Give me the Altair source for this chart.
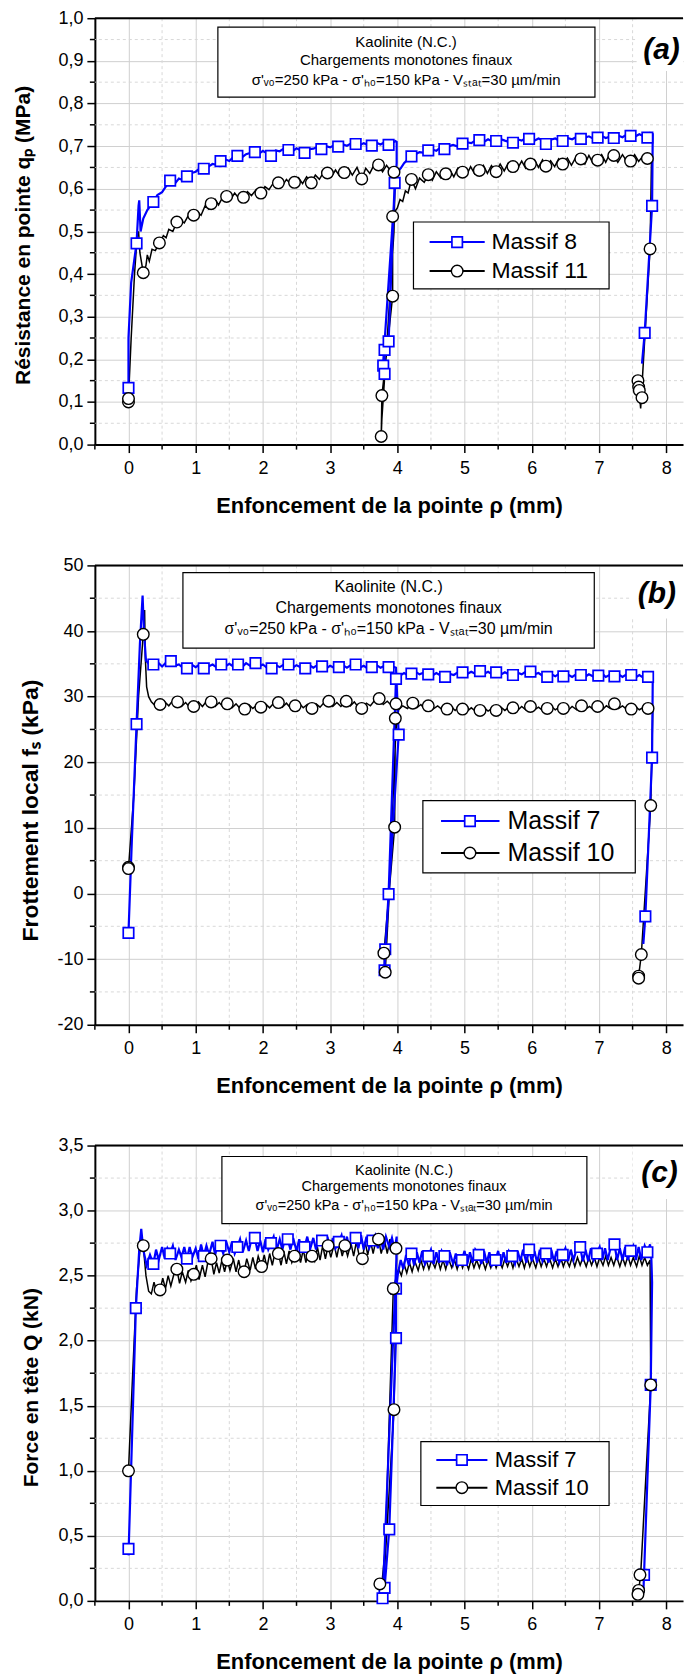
import altair as alt
import pandas as pd

FONT = "Liberation Sans"
BLUE = "#0000ff"
BLACK = "#000000"
GRID_MAJOR = "#d0d0d0"
GRID_MINOR = "#d8d8d8"

# ---------------- shared axis data ----------------
X_DOMAIN = [-0.5, 8.25]
X_MAJOR = [0, 1, 2, 3, 4, 5, 6, 7, 8]
X_MINOR = [-0.5, 0.5, 1.5, 2.5, 3.5, 4.5, 5.5, 6.5, 7.5]
X_TITLE = "Enfoncement de la pointe ρ (mm)"
ANNOT_LINES = ["Kaolinite (N.C.)", "Chargements monotones finaux",
               "σ'ᵥ₀=250 kPa - σ'ₕ₀=150 kPa - Vₛₜₐₜ=30 µm/min"]

# ---------------- panel (a) ----------------
A_Y_DOMAIN = [0.0, 1.0]
A_Y_MAJOR = [0.0, 0.1, 0.2, 0.3, 0.4, 0.5, 0.6, 0.7, 0.8, 0.9, 1.0]
A_Y_MINOR = [0.05, 0.15, 0.25, 0.35, 0.45, 0.55, 0.65, 0.75, 0.85, 0.95]
A_NAMES = ["Massif 8", "Massif 11"]

a_massif8_line = [
    (0.00, 0.133), (0.00, 0.25), (0.04, 0.38), (0.12, 0.472), (0.15, 0.56), (0.16, 0.573), (0.18, 0.50),
    (0.22, 0.53), (0.28, 0.55), (0.37, 0.569), (0.43, 0.585), (0.50, 0.592), (0.56, 0.606), (0.62, 0.619),
    (0.69, 0.612), (0.75, 0.624), (0.81, 0.620), (0.87, 0.629), (0.94, 0.637), (1.00, 0.640), (1.06, 0.648),
    (1.12, 0.647), (1.19, 0.652), (1.25, 0.658), (1.31, 0.656), (1.37, 0.665), (1.44, 0.669), (1.50, 0.665),
    (1.56, 0.674), (1.62, 0.677), (1.69, 0.674), (1.75, 0.681), (1.81, 0.684), (1.88, 0.686), (1.94, 0.682),
    (2.00, 0.689), (2.06, 0.683), (2.12, 0.677), (2.19, 0.690), (2.25, 0.688), (2.31, 0.694), (2.38, 0.691),
    (2.44, 0.688), (2.50, 0.695), (2.56, 0.690), (2.62, 0.684), (2.69, 0.693), (2.75, 0.694), (2.81, 0.698),
    (2.87, 0.693), (2.94, 0.700), (3.00, 0.697), (3.06, 0.702), (3.12, 0.699), (3.19, 0.704), (3.25, 0.701),
    (3.31, 0.706), (3.38, 0.705), (3.44, 0.702), (3.50, 0.707), (3.56, 0.703), (3.62, 0.701), (3.69, 0.708),
    (3.75, 0.704), (3.81, 0.709), (3.87, 0.703), (3.93, 0.708), (3.97, 0.712), (3.99, 0.710), (3.99, 0.660),
    (3.78, 0.170), (3.79, 0.185), (3.81, 0.166), (3.81, 0.222), (3.87, 0.242), (3.96, 0.614), (4.00, 0.640),
    (4.05, 0.648), (4.10, 0.660), (4.15, 0.668), (4.21, 0.676), (4.27, 0.681), (4.33, 0.686), (4.40, 0.684),
    (4.46, 0.690), (4.52, 0.692), (4.58, 0.689), (4.64, 0.697), (4.70, 0.693), (4.77, 0.700), (4.83, 0.703),
    (4.90, 0.699), (4.97, 0.706), (5.03, 0.709), (5.10, 0.707), (5.16, 0.713), (5.22, 0.714), (5.28, 0.709),
    (5.35, 0.716), (5.41, 0.711), (5.47, 0.712), (5.53, 0.717), (5.60, 0.713), (5.66, 0.710), (5.72, 0.708),
    (5.78, 0.716), (5.85, 0.713), (5.91, 0.719), (5.96, 0.717), (6.03, 0.712), (6.10, 0.718), (6.16, 0.714),
    (6.21, 0.705), (6.28, 0.715), (6.35, 0.718), (6.41, 0.713), (6.46, 0.712), (6.53, 0.719), (6.60, 0.716),
    (6.66, 0.721), (6.73, 0.717), (6.79, 0.720), (6.85, 0.723), (6.91, 0.718), (6.98, 0.720), (7.04, 0.724),
    (7.10, 0.719), (7.16, 0.722), (7.22, 0.719), (7.28, 0.725), (7.35, 0.721), (7.41, 0.727), (7.47, 0.724),
    (7.53, 0.722), (7.60, 0.728), (7.66, 0.724), (7.72, 0.720), (7.76, 0.730), (7.79, 0.725), (7.80, 0.730),
    (7.79, 0.560), (7.68, 0.262), (7.64, 0.190)]
a_massif8_marks = [
    (0.00, 0.133), (0.12, 0.472), (0.37, 0.569), (0.62, 0.619), (0.87, 0.629), (1.12, 0.647), (1.37, 0.665),
    (1.62, 0.677), (1.88, 0.686), (2.12, 0.677), (2.38, 0.691), (2.62, 0.684), (2.87, 0.693), (3.12, 0.699),
    (3.38, 0.705), (3.62, 0.701), (3.87, 0.703), (3.79, 0.185), (3.81, 0.166), (3.81, 0.222), (3.87, 0.242),
    (3.96, 0.614), (4.21, 0.676), (4.46, 0.690), (4.70, 0.693), (4.97, 0.706), (5.22, 0.714), (5.47, 0.712),
    (5.72, 0.708), (5.96, 0.717), (6.21, 0.705), (6.46, 0.712), (6.73, 0.717), (6.98, 0.720), (7.22, 0.719),
    (7.47, 0.724), (7.72, 0.720), (7.79, 0.560), (7.68, 0.262)]
a_massif11_line = [
    (0.00, 0.100), (0.00, 0.108), (0.04, 0.25), (0.09, 0.40), (0.13, 0.49), (0.15, 0.50), (0.17, 0.45),
    (0.22, 0.403), (0.26, 0.42), (0.28, 0.445), (0.31, 0.43), (0.35, 0.458), (0.40, 0.455), (0.46, 0.473),
    (0.52, 0.49), (0.56, 0.485), (0.60, 0.505), (0.66, 0.50), (0.72, 0.522), (0.78, 0.525), (0.83, 0.52),
    (0.90, 0.54), (0.97, 0.538), (1.03, 0.545), (1.08, 0.538), (1.14, 0.56), (1.19, 0.553), (1.23, 0.565),
    (1.29, 0.575), (1.34, 0.562), (1.40, 0.58), (1.46, 0.582), (1.52, 0.575), (1.58, 0.59), (1.64, 0.578),
    (1.71, 0.580), (1.77, 0.593), (1.83, 0.584), (1.90, 0.598), (1.97, 0.590), (2.03, 0.605), (2.09, 0.598),
    (2.15, 0.612), (2.23, 0.614), (2.29, 0.607), (2.35, 0.622), (2.41, 0.612), (2.47, 0.615), (2.53, 0.626),
    (2.59, 0.612), (2.65, 0.628), (2.72, 0.614), (2.78, 0.632), (2.84, 0.622), (2.90, 0.638), (2.96, 0.637),
    (3.02, 0.628), (3.08, 0.644), (3.14, 0.630), (3.21, 0.638), (3.27, 0.648), (3.33, 0.632), (3.40, 0.650),
    (3.47, 0.623), (3.53, 0.648), (3.59, 0.636), (3.65, 0.655), (3.72, 0.656), (3.78, 0.640), (3.84, 0.655),
    (3.90, 0.642), (3.95, 0.639), (3.97, 0.650), (3.95, 0.50), (3.85, 0.25), (3.77, 0.06), (3.76, 0.019),
    (3.77, 0.115), (3.83, 0.20), (3.93, 0.348), (3.93, 0.535), (3.96, 0.545), (4.00, 0.555), (4.04, 0.575),
    (4.08, 0.570), (4.12, 0.595), (4.16, 0.590), (4.21, 0.622), (4.27, 0.600), (4.33, 0.625), (4.40, 0.615),
    (4.46, 0.633), (4.52, 0.620), (4.58, 0.640), (4.65, 0.625), (4.72, 0.635), (4.78, 0.645), (4.84, 0.628),
    (4.90, 0.648), (4.97, 0.639), (5.03, 0.632), (5.09, 0.652), (5.15, 0.635), (5.22, 0.643), (5.28, 0.655),
    (5.34, 0.636), (5.40, 0.654), (5.47, 0.640), (5.53, 0.658), (5.59, 0.642), (5.65, 0.660), (5.72, 0.652),
    (5.78, 0.645), (5.85, 0.665), (5.91, 0.648), (5.98, 0.658), (6.04, 0.668), (6.10, 0.650), (6.16, 0.668),
    (6.21, 0.653), (6.28, 0.666), (6.34, 0.652), (6.40, 0.670), (6.46, 0.658), (6.53, 0.672), (6.59, 0.655),
    (6.66, 0.675), (6.73, 0.670), (6.79, 0.658), (6.85, 0.678), (6.91, 0.660), (6.98, 0.667), (7.04, 0.680),
    (7.10, 0.662), (7.16, 0.682), (7.22, 0.678), (7.28, 0.662), (7.35, 0.680), (7.41, 0.665), (7.47, 0.665),
    (7.53, 0.680), (7.59, 0.664), (7.66, 0.678), (7.72, 0.671), (7.77, 0.668), (7.78, 0.660), (7.76, 0.459),
    (7.70, 0.30), (7.62, 0.085), (7.60, 0.12), (7.58, 0.150), (7.59, 0.135), (7.60, 0.127), (7.64, 0.110)]
a_massif11_marks = [
    (0.00, 0.100), (0.00, 0.108), (0.22, 0.403), (0.46, 0.473), (0.72, 0.522), (0.97, 0.538), (1.23, 0.565),
    (1.46, 0.582), (1.71, 0.580), (1.97, 0.590), (2.23, 0.614), (2.47, 0.615), (2.72, 0.614), (2.96, 0.637),
    (3.21, 0.638), (3.47, 0.623), (3.72, 0.656), (3.95, 0.639), (3.93, 0.535), (3.93, 0.348), (3.77, 0.115),
    (3.76, 0.019), (4.21, 0.622), (4.46, 0.633), (4.72, 0.635), (4.97, 0.639), (5.22, 0.643), (5.47, 0.640),
    (5.72, 0.652), (5.98, 0.658), (6.21, 0.653), (6.46, 0.658), (6.73, 0.670), (6.98, 0.667), (7.22, 0.678),
    (7.47, 0.665), (7.72, 0.671), (7.76, 0.459), (7.58, 0.150), (7.59, 0.135), (7.60, 0.127), (7.64, 0.110)]

# ---------------- panel (b) ----------------
B_Y_DOMAIN = [-20, 50]
B_Y_MAJOR = [-20, -10, 0, 10, 20, 30, 40, 50]
B_Y_MINOR = [-15, -5, 5, 15, 25, 35, 45]
BC_NAMES = ["Massif 7", "Massif 10"]

b_massif7_line = [
    (0.00, -6.0), (0.05, 8.0), (0.12, 25.8), (0.17, 38.0), (0.21, 45.4), (0.23, 40.0), (0.26, 35.5),
    (0.30, 35.0), (0.37, 34.9), (0.43, 35.3), (0.50, 34.6), (0.56, 35.2), (0.63, 35.4), (0.69, 34.7),
    (0.75, 34.9), (0.81, 34.4), (0.87, 34.3), (0.94, 34.9), (1.00, 34.5), (1.06, 34.9), (1.12, 34.3),
    (1.19, 34.6), (1.25, 34.9), (1.31, 34.5), (1.38, 34.9), (1.44, 34.6), (1.50, 35.0), (1.56, 34.6),
    (1.63, 34.9), (1.69, 34.5), (1.75, 35.1), (1.81, 34.7), (1.89, 35.1), (1.94, 34.6), (2.00, 34.9),
    (2.06, 34.4), (2.13, 34.3), (2.19, 34.8), (2.25, 34.5), (2.31, 34.9), (2.38, 34.9), (2.44, 34.4),
    (2.50, 34.8), (2.56, 34.5), (2.63, 34.3), (2.69, 34.8), (2.75, 34.4), (2.81, 34.8), (2.88, 34.6),
    (2.94, 34.3), (3.00, 34.7), (3.06, 34.4), (3.13, 34.5), (3.19, 34.8), (3.25, 34.4), (3.31, 34.8),
    (3.38, 34.9), (3.44, 34.4), (3.50, 34.7), (3.56, 34.3), (3.62, 34.5), (3.69, 34.8), (3.75, 34.4),
    (3.81, 34.7), (3.87, 34.5), (3.93, 34.6), (3.98, 34.4), (4.02, 24.2), (3.80, -12.0), (3.81, -11.7),
    (3.82, -8.5), (3.87, -0.1), (3.98, 32.7), (4.04, 33.2), (4.10, 33.6), (4.15, 33.3), (4.21, 33.5),
    (4.27, 33.8), (4.33, 33.4), (4.40, 33.7), (4.46, 33.4), (4.52, 33.2), (4.58, 33.6), (4.65, 33.2),
    (4.71, 33.0), (4.77, 33.5), (4.84, 33.3), (4.90, 33.7), (4.97, 33.7), (5.03, 33.4), (5.10, 33.8),
    (5.16, 33.5), (5.23, 33.9), (5.29, 33.5), (5.35, 33.8), (5.41, 33.4), (5.47, 33.7), (5.53, 33.3),
    (5.60, 33.7), (5.66, 33.4), (5.72, 33.3), (5.78, 33.7), (5.85, 33.4), (5.91, 33.8), (5.98, 33.8),
    (6.04, 33.4), (6.10, 33.6), (6.16, 33.2), (6.23, 33.0), (6.29, 33.4), (6.35, 33.1), (6.41, 33.5),
    (6.47, 33.1), (6.53, 33.4), (6.60, 33.0), (6.66, 33.4), (6.73, 33.3), (6.79, 33.0), (6.85, 33.4),
    (6.91, 33.1), (6.99, 33.2), (7.05, 33.5), (7.10, 33.0), (7.16, 33.3), (7.23, 33.1), (7.29, 33.4),
    (7.35, 33.0), (7.41, 33.4), (7.48, 33.3), (7.54, 32.9), (7.60, 33.3), (7.66, 32.9), (7.73, 33.0),
    (7.78, 33.2), (7.80, 32.8), (7.79, 20.7), (7.69, -3.5), (7.66, -7.7)]
b_massif7_marks = [
    (0.00, -6.0), (0.12, 25.8), (0.37, 34.9), (0.63, 35.4), (0.87, 34.3), (1.12, 34.3), (1.38, 34.9),
    (1.63, 34.9), (1.89, 35.1), (2.13, 34.3), (2.38, 34.9), (2.63, 34.3), (2.88, 34.6), (3.13, 34.5),
    (3.38, 34.9), (3.62, 34.5), (3.87, 34.5), (3.98, 32.7), (4.02, 24.2), (3.87, -0.1), (3.82, -8.5),
    (3.81, -11.7), (4.21, 33.5), (4.46, 33.4), (4.71, 33.0), (4.97, 33.7), (5.23, 33.9), (5.47, 33.7),
    (5.72, 33.3), (5.98, 33.8), (6.23, 33.0), (6.47, 33.1), (6.73, 33.3), (6.99, 33.2), (7.23, 33.1),
    (7.48, 33.3), (7.73, 33.0), (7.79, 20.7), (7.69, -3.5)]
b_massif10_line = [
    (0.00, 4.0), (0.00, 3.8), (0.08, 15.0), (0.15, 30.0), (0.22, 39.5), (0.24, 43.2), (0.25, 36.0),
    (0.27, 31.5), (0.30, 30.0), (0.34, 29.2), (0.40, 28.6), (0.47, 28.8), (0.53, 29.3), (0.60, 28.6),
    (0.66, 29.4), (0.73, 29.2), (0.79, 28.5), (0.85, 29.1), (0.91, 28.4), (0.97, 28.5), (1.04, 29.2),
    (1.10, 28.5), (1.16, 29.3), (1.23, 29.2), (1.29, 28.5), (1.35, 29.1), (1.41, 28.4), (1.47, 28.9),
    (1.54, 28.3), (1.60, 28.9), (1.66, 28.2), (1.73, 28.1), (1.79, 28.8), (1.85, 28.2), (1.91, 28.7),
    (1.97, 28.4), (2.04, 28.9), (2.10, 28.3), (2.16, 29.0), (2.23, 29.1), (2.29, 28.4), (2.35, 29.0),
    (2.41, 28.3), (2.48, 28.6), (2.54, 29.0), (2.60, 28.3), (2.66, 28.8), (2.73, 28.2), (2.79, 28.9),
    (2.85, 28.4), (2.91, 29.1), (2.98, 29.3), (3.04, 28.5), (3.10, 29.1), (3.16, 28.5), (3.24, 29.3),
    (3.30, 28.6), (3.36, 29.2), (3.41, 28.5), (3.47, 28.2), (3.54, 29.0), (3.60, 28.6), (3.66, 29.4),
    (3.73, 29.7), (3.79, 28.8), (3.85, 29.3), (3.91, 28.7), (3.98, 28.9), (3.97, 26.7), (3.96, 10.1),
    (3.80, -9.1), (3.82, -12.0), (3.88, 0.0), (3.95, 18.0), (3.98, 25.0), (4.02, 28.0), (4.08, 28.6),
    (4.15, 28.2), (4.23, 29.0), (4.29, 28.3), (4.35, 28.8), (4.40, 28.2), (4.46, 28.6), (4.53, 28.1),
    (4.60, 28.6), (4.67, 28.0), (4.74, 28.1), (4.80, 28.5), (4.86, 27.9), (4.91, 28.4), (4.97, 28.1),
    (5.04, 27.8), (5.10, 28.3), (5.16, 27.8), (5.23, 27.9), (5.29, 28.3), (5.35, 27.8), (5.41, 28.2),
    (5.47, 27.9), (5.54, 28.4), (5.60, 27.9), (5.66, 28.4), (5.72, 28.3), (5.79, 27.9), (5.85, 28.5),
    (5.91, 28.0), (5.98, 28.5), (6.04, 28.0), (6.10, 28.4), (6.16, 27.9), (6.23, 28.2), (6.29, 28.5),
    (6.35, 28.0), (6.41, 28.4), (6.47, 28.2), (6.54, 27.9), (6.60, 28.5), (6.67, 28.0), (6.74, 28.6),
    (6.80, 28.1), (6.86, 28.5), (6.92, 28.0), (6.98, 28.5), (7.05, 28.0), (7.11, 28.6), (7.17, 28.2),
    (7.23, 28.9), (7.29, 28.2), (7.35, 28.6), (7.42, 28.0), (7.48, 28.1), (7.54, 28.5), (7.60, 28.0),
    (7.67, 28.4), (7.73, 28.2), (7.78, 28.0), (7.80, 27.8), (7.77, 13.4), (7.63, -9.3), (7.59, -12.6),
    (7.59, -12.9)]
b_massif10_marks = [
    (0.00, 4.0), (0.00, 3.8), (0.22, 39.5), (0.47, 28.8), (0.73, 29.2), (0.97, 28.5), (1.23, 29.2),
    (1.47, 28.9), (1.73, 28.1), (1.97, 28.4), (2.23, 29.1), (2.48, 28.6), (2.73, 28.2), (2.98, 29.3),
    (3.24, 29.3), (3.47, 28.2), (3.73, 29.7), (3.98, 28.9), (3.97, 26.7), (3.96, 10.1), (3.80, -9.1),
    (3.82, -12.0), (4.23, 29.0), (4.46, 28.6), (4.74, 28.1), (4.97, 28.1), (5.23, 27.9), (5.47, 27.9),
    (5.72, 28.3), (5.98, 28.5), (6.23, 28.2), (6.47, 28.2), (6.74, 28.6), (6.98, 28.5), (7.23, 28.9),
    (7.48, 28.1), (7.73, 28.2), (7.77, 13.4), (7.63, -9.3), (7.59, -12.6), (7.59, -12.9)]

# ---------------- panel (c) ----------------
C_Y_DOMAIN = [0.0, 3.5]
C_Y_MAJOR = [0.0, 0.5, 1.0, 1.5, 2.0, 2.5, 3.0, 3.5]
C_Y_MINOR = [0.25, 0.75, 1.25, 1.75, 2.25, 2.75, 3.25]

c_massif7_line = [
    (0.00, 0.40), (0.00, 0.35), (0.05, 1.20), (0.11, 2.25), (0.16, 2.70), (0.19, 2.86), (0.22, 2.70),
    (0.27, 2.58), (0.32, 2.66), (0.37, 2.59), (0.41, 2.70), (0.45, 2.62), (0.50, 2.72), (0.54, 2.63),
    (0.58, 2.71), (0.62, 2.67), (0.66, 2.73), (0.70, 2.62), (0.75, 2.70), (0.79, 2.64), (0.83, 2.72),
    (0.87, 2.63), (0.91, 2.72), (0.95, 2.64), (1.00, 2.71), (1.04, 2.63), (1.08, 2.74), (1.12, 2.65),
    (1.16, 2.73), (1.20, 2.66), (1.25, 2.76), (1.29, 2.66), (1.33, 2.75), (1.37, 2.73), (1.41, 2.67),
    (1.45, 2.77), (1.50, 2.68), (1.54, 2.76), (1.58, 2.67), (1.62, 2.72), (1.66, 2.78), (1.70, 2.68),
    (1.75, 2.77), (1.79, 2.69), (1.83, 2.78), (1.88, 2.79), (1.92, 2.69), (1.96, 2.77), (2.00, 2.68),
    (2.04, 2.78), (2.08, 2.70), (2.12, 2.75), (2.16, 2.80), (2.20, 2.69), (2.25, 2.78), (2.29, 2.70),
    (2.33, 2.79), (2.37, 2.78), (2.41, 2.70), (2.45, 2.79), (2.50, 2.69), (2.54, 2.78), (2.58, 2.70),
    (2.62, 2.72), (2.66, 2.80), (2.70, 2.70), (2.75, 2.79), (2.79, 2.70), (2.83, 2.79), (2.88, 2.77),
    (2.92, 2.70), (2.96, 2.80), (3.00, 2.70), (3.04, 2.79), (3.08, 2.71), (3.13, 2.76), (3.17, 2.81),
    (3.21, 2.71), (3.25, 2.80), (3.29, 2.70), (3.33, 2.79), (3.38, 2.79), (3.42, 2.71), (3.46, 2.81),
    (3.50, 2.70), (3.54, 2.80), (3.58, 2.71), (3.63, 2.77), (3.67, 2.81), (3.71, 2.71), (3.75, 2.79),
    (3.79, 2.70), (3.83, 2.80), (3.88, 2.72), (3.92, 2.79), (3.96, 2.70), (3.99, 2.80), (3.99, 2.68),
    (3.78, 0.00), (3.81, 0.10), (3.88, 0.55), (3.98, 2.02), (3.98, 2.40), (4.01, 2.52), (4.05, 2.62),
    (4.09, 2.55), (4.13, 2.66), (4.17, 2.58), (4.21, 2.67), (4.25, 2.58), (4.29, 2.68), (4.33, 2.60),
    (4.37, 2.69), (4.41, 2.59), (4.46, 2.65), (4.50, 2.70), (4.54, 2.59), (4.58, 2.68), (4.62, 2.60),
    (4.66, 2.69), (4.70, 2.65), (4.74, 2.58), (4.78, 2.68), (4.83, 2.59), (4.87, 2.67), (4.91, 2.58),
    (4.96, 2.62), (5.00, 2.69), (5.04, 2.59), (5.08, 2.68), (5.12, 2.60), (5.16, 2.70), (5.21, 2.66),
    (5.25, 2.59), (5.29, 2.69), (5.33, 2.60), (5.37, 2.68), (5.41, 2.58), (5.46, 2.62), (5.50, 2.69),
    (5.54, 2.59), (5.58, 2.68), (5.62, 2.60), (5.66, 2.69), (5.71, 2.65), (5.75, 2.59), (5.79, 2.69),
    (5.83, 2.61), (5.87, 2.70), (5.92, 2.60), (5.96, 2.70), (6.00, 2.61), (6.04, 2.69), (6.08, 2.60),
    (6.12, 2.70), (6.16, 2.61), (6.21, 2.67), (6.25, 2.60), (6.29, 2.70), (6.33, 2.61), (6.37, 2.69),
    (6.41, 2.60), (6.46, 2.66), (6.50, 2.71), (6.54, 2.61), (6.58, 2.70), (6.62, 2.62), (6.67, 2.71),
    (6.72, 2.72), (6.76, 2.61), (6.80, 2.70), (6.84, 2.61), (6.88, 2.71), (6.92, 2.62), (6.97, 2.67),
    (7.01, 2.72), (7.05, 2.62), (7.09, 2.71), (7.13, 2.62), (7.18, 2.73), (7.23, 2.74), (7.27, 2.62),
    (7.31, 2.71), (7.35, 2.62), (7.39, 2.72), (7.43, 2.62), (7.47, 2.69), (7.51, 2.73), (7.55, 2.62),
    (7.59, 2.72), (7.63, 2.62), (7.68, 2.73), (7.72, 2.68), (7.76, 2.74), (7.78, 2.62), (7.79, 2.45),
    (7.77, 1.66), (7.67, 0.20), (7.66, 0.06)]
c_massif7_marks = [
    (0.00, 0.40), (0.11, 2.25), (0.37, 2.59), (0.62, 2.67), (0.87, 2.63), (1.12, 2.65), (1.37, 2.73),
    (1.62, 2.72), (1.88, 2.79), (2.12, 2.75), (2.37, 2.78), (2.62, 2.72), (2.88, 2.77), (3.13, 2.76),
    (3.38, 2.79), (3.63, 2.77), (3.98, 2.40), (3.98, 2.02), (3.88, 0.55), (3.81, 0.10), (3.78, 0.02),
    (4.21, 2.67), (4.46, 2.65), (4.70, 2.65), (4.96, 2.62), (5.21, 2.66), (5.46, 2.62), (5.71, 2.65),
    (5.96, 2.70), (6.21, 2.67), (6.46, 2.66), (6.72, 2.72), (6.97, 2.67), (7.23, 2.74), (7.47, 2.69),
    (7.72, 2.68), (7.77, 1.66), (7.67, 0.20)]
c_massif10_line = [
    (0.00, 1.00), (0.05, 1.60), (0.12, 2.40), (0.18, 2.75), (0.20, 2.80), (0.22, 2.73), (0.26, 2.50),
    (0.30, 2.38), (0.34, 2.36), (0.38, 2.45), (0.42, 2.37), (0.47, 2.39), (0.51, 2.48), (0.55, 2.40),
    (0.59, 2.50), (0.63, 2.42), (0.68, 2.52), (0.72, 2.55), (0.76, 2.44), (0.80, 2.53), (0.85, 2.45),
    (0.89, 2.54), (0.93, 2.46), (0.97, 2.51), (1.01, 2.58), (1.05, 2.47), (1.10, 2.58), (1.14, 2.49),
    (1.18, 2.60), (1.23, 2.63), (1.27, 2.51), (1.31, 2.60), (1.35, 2.52), (1.39, 2.62), (1.43, 2.53),
    (1.47, 2.62), (1.51, 2.54), (1.56, 2.63), (1.60, 2.53), (1.64, 2.62), (1.68, 2.52), (1.72, 2.53),
    (1.76, 2.63), (1.81, 2.54), (1.85, 2.64), (1.89, 2.55), (1.93, 2.65), (1.98, 2.57), (2.02, 2.66),
    (2.06, 2.56), (2.10, 2.67), (2.14, 2.58), (2.18, 2.68), (2.23, 2.67), (2.27, 2.58), (2.31, 2.69),
    (2.35, 2.59), (2.39, 2.69), (2.43, 2.60), (2.47, 2.65), (2.51, 2.70), (2.56, 2.60), (2.60, 2.70),
    (2.64, 2.60), (2.68, 2.71), (2.73, 2.65), (2.77, 2.61), (2.81, 2.72), (2.85, 2.62), (2.89, 2.73),
    (2.93, 2.63), (2.97, 2.73), (3.01, 2.64), (3.06, 2.74), (3.10, 2.64), (3.14, 2.75), (3.18, 2.65),
    (3.22, 2.73), (3.26, 2.65), (3.31, 2.75), (3.35, 2.65), (3.39, 2.76), (3.43, 2.66), (3.48, 2.63),
    (3.52, 2.76), (3.56, 2.66), (3.60, 2.77), (3.64, 2.67), (3.68, 2.77), (3.72, 2.78), (3.76, 2.67),
    (3.81, 2.77), (3.85, 2.67), (3.89, 2.78), (3.93, 2.68), (3.98, 2.71), (3.99, 2.62), (3.95, 1.47),
    (3.80, 0.15), (3.74, 0.13), (3.76, 0.08), (3.82, 0.40), (3.94, 2.40), (3.98, 2.48), (4.02, 2.55),
    (4.06, 2.50), (4.10, 2.59), (4.14, 2.52), (4.18, 2.60), (4.22, 2.53), (4.26, 2.61), (4.31, 2.54),
    (4.35, 2.62), (4.39, 2.55), (4.43, 2.62), (4.47, 2.55), (4.51, 2.62), (4.56, 2.56), (4.60, 2.63),
    (4.64, 2.55), (4.68, 2.62), (4.72, 2.55), (4.76, 2.63), (4.81, 2.56), (4.85, 2.62), (4.89, 2.55),
    (4.93, 2.63), (4.97, 2.56), (5.01, 2.62), (5.06, 2.55), (5.10, 2.63), (5.14, 2.56), (5.18, 2.62),
    (5.22, 2.56), (5.26, 2.63), (5.31, 2.55), (5.35, 2.62), (5.39, 2.56), (5.43, 2.63), (5.47, 2.56),
    (5.51, 2.62), (5.56, 2.56), (5.60, 2.63), (5.64, 2.57), (5.68, 2.63), (5.72, 2.56), (5.76, 2.64),
    (5.81, 2.57), (5.85, 2.63), (5.89, 2.56), (5.93, 2.64), (5.97, 2.57), (6.01, 2.63), (6.06, 2.56),
    (6.10, 2.64), (6.14, 2.57), (6.18, 2.63), (6.22, 2.57), (6.26, 2.64), (6.31, 2.56), (6.35, 2.63),
    (6.39, 2.57), (6.43, 2.64), (6.47, 2.57), (6.51, 2.63), (6.56, 2.57), (6.60, 2.64), (6.64, 2.57),
    (6.68, 2.64), (6.72, 2.58), (6.76, 2.64), (6.81, 2.57), (6.85, 2.64), (6.89, 2.58), (6.93, 2.64),
    (6.97, 2.57), (7.01, 2.64), (7.06, 2.58), (7.10, 2.65), (7.14, 2.58), (7.18, 2.64), (7.22, 2.58),
    (7.26, 2.65), (7.31, 2.57), (7.35, 2.64), (7.39, 2.58), (7.43, 2.65), (7.47, 2.58), (7.51, 2.64),
    (7.56, 2.57), (7.60, 2.65), (7.64, 2.58), (7.68, 2.64), (7.72, 2.58), (7.76, 2.62), (7.77, 1.66),
    (7.62, 0.20), (7.59, 0.08), (7.58, 0.05)]
c_massif10_marks = [
    (0.00, 1.00), (0.22, 2.73), (0.47, 2.39), (0.72, 2.55), (0.97, 2.51), (1.23, 2.63), (1.47, 2.62),
    (1.72, 2.53), (1.98, 2.57), (2.23, 2.67), (2.47, 2.65), (2.73, 2.65), (2.97, 2.73), (3.22, 2.73),
    (3.48, 2.63), (3.72, 2.78), (3.98, 2.71), (3.95, 1.47), (3.94, 2.40), (3.74, 0.13), (7.77, 1.66),
    (7.61, 0.20), (7.59, 0.08), (7.58, 0.05)]

COMMA_1F = "replace(format(datum.value, '.1f'), '.', ',')"
PLAIN = "toString(datum.value)"


def to_df(pairs):
    return pd.DataFrame({"x": [a for a, b in pairs], "y": [b for a, b in pairs],
                         "i": list(range(len(pairs)))})


def panel(p):
    xs = alt.Scale(domain=X_DOMAIN, nice=False, zero=False)
    ys = alt.Scale(domain=p["ydom"], nice=False, zero=False)
    y0, y1 = p["ydom"]

    x_axis = alt.Axis(values=X_MAJOR, format="d", grid=True, gridColor=GRID_MAJOR, gridWidth=1,
                      domainColor="black", domainWidth=2, tickColor="black", tickWidth=1.5,
                      tickSize=8, labelFont=FONT, labelFontSize=18, labelColor="black",
                      labelPadding=7, labelOverlap=False, title=X_TITLE, titleFont=FONT,
                      titleFontSize=22, titleFontWeight="bold", titleColor="black",
                      titleY=61, titleBaseline="middle")
    y_axis = alt.Axis(values=p["ymajor"], labelExpr=p["ylabel"], grid=True, gridColor=GRID_MAJOR,
                      gridWidth=1, domainColor="black", domainWidth=2, tickColor="black",
                      tickWidth=1.5, tickSize=8, labelFont=FONT, labelFontSize=18,
                      labelColor="black", labelPadding=4, labelOverlap=False,
                      title=p["ytitle"], titleFont=FONT, titleFontSize=p["ytitle_size"],
                      titleFontWeight="bold", titleColor="black", titleX=p["ytitle_x"],
                      titleY=p["ytitle_y"], titleBaseline="middle")

    def X(field="x"):
        return alt.X(field + ":Q", scale=xs, axis=x_axis)

    def Y(field="y"):
        return alt.Y(field + ":Q", scale=ys, axis=y_axis)

    layers = []
    # dashed minor grid
    layers.append(alt.Chart(pd.DataFrame({"x": X_MINOR[1:]})).mark_rule(
        color=GRID_MINOR, strokeDash=[3, 3], strokeWidth=1).encode(x=X()))
    layers.append(alt.Chart(pd.DataFrame({"y": p["yminor"]})).mark_rule(
        color=GRID_MINOR, strokeDash=[3, 3], strokeWidth=1).encode(y=Y()))
    # minor ticks (outward)
    layers.append(alt.Chart(pd.DataFrame({"x": X_MINOR, "y": [y0] * len(X_MINOR)})).mark_rule(
        color="black", strokeWidth=1.5, y2Offset=5, clip=False).encode(
        x=X(), y=Y(), y2="y:Q"))
    layers.append(alt.Chart(pd.DataFrame({"y": p["yminor"], "x": [X_DOMAIN[0]] * len(p["yminor"])})).mark_rule(
        color="black", strokeWidth=1.5, x2Offset=-5, clip=False).encode(
        y=Y(), x=X(), x2="x:Q"))
    # white area behind the panel letter
    lb = p["label_box"]
    layers.append(alt.Chart(pd.DataFrame({"x": [lb[0]], "x2": [X_DOMAIN[1]], "y": [lb[1]], "y2": [y1]})).mark_rect(
        color="white").encode(x=X(), x2="x2:Q", y=Y(), y2="y2:Q"))
    # top frame line
    layers.append(alt.Chart(pd.DataFrame({"y": [y1]})).mark_rule(color="black", strokeWidth=2).encode(y=Y()))
    # annotation box
    bx = p["box"]
    layers.append(alt.Chart(pd.DataFrame({"x": [bx[0]], "x2": [bx[1]], "y": [bx[2]], "y2": [bx[3]]})).mark_rect(
        fill="white", stroke="black", strokeWidth=1.2).encode(x=X(), x2="x2:Q", y=Y(), y2="y2:Q"))
    layers.append(alt.Chart(pd.DataFrame({"t": ANNOT_LINES, "y": p["text_y"],
                                          "x": [p["text_x"]] * 3})).mark_text(
        font=FONT, fontSize=p["text_size"], color="black", align="center", baseline="middle").encode(
        x=X(), y=Y(), text="t:N"))
    # data lines
    blue_line, black_line = p["lines"]
    layers.append(alt.Chart(to_df(black_line)).mark_line(color=BLACK, strokeWidth=1.5).encode(
        x=X(), y=Y(), order=alt.Order("i:Q")))
    layers.append(alt.Chart(to_df(blue_line)).mark_line(color=BLUE, strokeWidth=2.2).encode(
        x=X(), y=Y(), order=alt.Order("i:Q")))
    blue_marks, black_marks = p["marks"]
    layers.append(alt.Chart(to_df(blue_marks)).mark_point(
        shape="square", filled=True, fill="white", stroke=BLUE, strokeWidth=1.7, size=110,
        opacity=1).encode(x=X(), y=Y()))
    layers.append(alt.Chart(to_df(black_marks)).mark_point(
        shape="circle", filled=True, fill="white", stroke=BLACK, strokeWidth=1.4, size=135,
        opacity=1).encode(x=X(), y=Y()))

    # legend box drawn in data space
    lg = p["legend"]
    layers.append(alt.Chart(pd.DataFrame({"x": [lg["box"][0]], "x2": [lg["box"][1]],
                                          "y": [lg["box"][2]], "y2": [lg["box"][3]]})).mark_rect(
        fill="white", stroke="black", strokeWidth=1.2).encode(x=X(), x2="x2:Q", y=Y(), y2="y2:Q"))
    for color, shape, ry, size, sw in [(BLUE, "square", lg["rows"][0], 110, 1.7),
                                       (BLACK, "circle", lg["rows"][1], 135, 1.4)]:
        layers.append(alt.Chart(pd.DataFrame({"x": [lg["line"][0]], "x2": [lg["line"][1]], "y": [ry]})).mark_rule(
            color=color, strokeWidth=2).encode(x=X(), x2="x2:Q", y=Y()))
        layers.append(alt.Chart(pd.DataFrame({"x": [lg["mark_x"]], "y": [ry]})).mark_point(
            shape=shape, filled=True, fill="white", stroke=color, strokeWidth=sw, size=size,
            opacity=1).encode(x=X(), y=Y()))
    layers.append(alt.Chart(pd.DataFrame({"t": p["names"], "y": lg["rows"],
                                          "x": [lg["text_x"]] * 2})).mark_text(
        font=FONT, fontSize=lg["font"], color="black", align="left", baseline="middle").encode(
        x=X(), y=Y(), text="t:N"))
    # panel letter
    layers.append(alt.Chart(pd.DataFrame({"t": [p["label"]], "x": [p["label_xy"][0]],
                                          "y": [p["label_xy"][1]]})).mark_text(
        font=FONT, fontSize=30, fontWeight="bold", fontStyle="italic", color="black",
        align="center", baseline="middle").encode(x=X(), y=Y(), text="t:N"))

    return alt.layer(*layers).properties(width=589, height=p["height"])


pa = panel(dict(
    ydom=A_Y_DOMAIN, ymajor=A_Y_MAJOR, yminor=A_Y_MINOR, ylabel=COMMA_1F,
    ytitle="Résistance en pointe qₚ (MPa)", ytitle_size=21, ytitle_x=-71, ytitle_y=217,
    height=427, label_box=(7.56, 0.876), box=(1.33, 6.94, 0.815, 0.979),
    text_x=4.13, text_y=[0.944, 0.902, 0.855], text_size=15,
    lines=(a_massif8_line, a_massif11_line), marks=(a_massif8_marks, a_massif11_marks),
    names=A_NAMES,
    legend=dict(box=(4.24, 7.15, 0.365, 0.522), rows=[0.475, 0.407], line=(4.48, 5.30),
                mark_x=4.89, text_x=5.40, font=23),
    label="(a)", label_xy=(7.93, 0.925)))

pb = panel(dict(
    ydom=B_Y_DOMAIN, ymajor=B_Y_MAJOR, yminor=B_Y_MINOR, ylabel=PLAIN,
    ytitle="Frottement local fₛ (kPa)", ytitle_size=23, ytitle_x=-64, ytitle_y=245,
    height=460, label_box=(7.46, 41.9), box=(0.81, 6.93, 37.4, 48.9),
    text_x=3.87, text_y=[46.65, 43.46, 40.26], text_size=16,
    lines=(b_massif7_line, b_massif10_line), marks=(b_massif7_marks, b_massif10_marks),
    names=BC_NAMES,
    legend=dict(box=(4.38, 7.54, 3.13, 14.15), rows=[11.04, 6.17], line=(4.65, 5.52),
                mark_x=5.08, text_x=5.64, font=25),
    label="(b)", label_xy=(7.86, 45.7)))

pc = panel(dict(
    ydom=C_Y_DOMAIN, ymajor=C_Y_MAJOR, yminor=C_Y_MINOR, ylabel=COMMA_1F,
    ytitle="Force en tête Q (kN)", ytitle_size=21, ytitle_x=-63, ytitle_y=242,
    height=456, label_box=(7.50, 3.09), box=(1.39, 6.82, 2.90, 3.416),
    text_x=4.10, text_y=[3.308, 3.178, 3.032], text_size=14.5,
    lines=(c_massif7_line, c_massif10_line), marks=(c_massif7_marks, c_massif10_marks),
    names=BC_NAMES,
    legend=dict(box=(4.35, 7.15, 0.733, 1.224), rows=[1.083, 0.870], line=(4.58, 5.34),
                mark_x=4.96, text_x=5.45, font=22),
    label="(c)", label_xy=(7.90, 3.29)))

chart = alt.vconcat(pa, pb, pc, spacing=40).configure_view(stroke=None).properties(
    padding={"left": 5, "top": 0, "right": 0, "bottom": 0})

chart.save("out.html", embed_options={"renderer": "svg", "actions": False})
